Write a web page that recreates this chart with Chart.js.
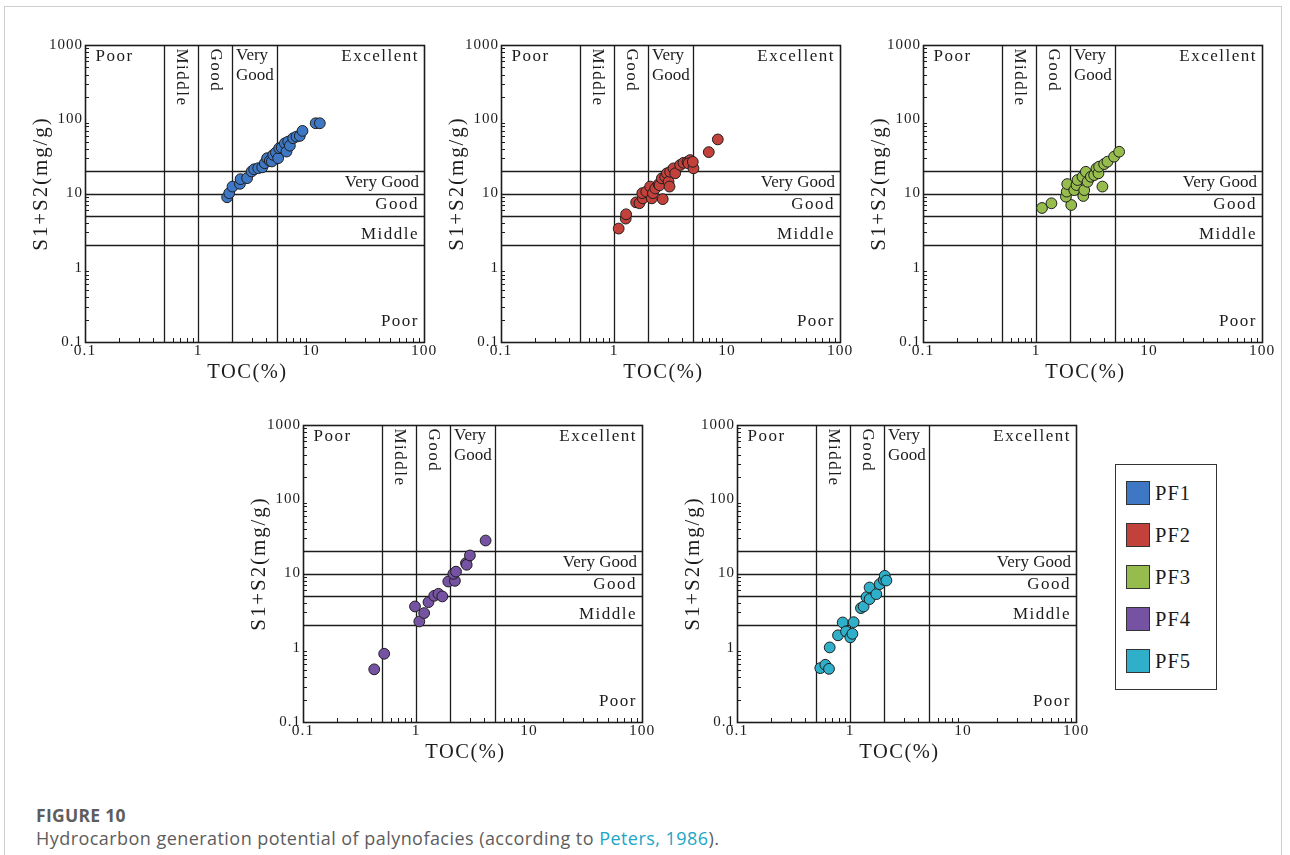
<!DOCTYPE html>
<html><head><meta charset="utf-8">
<script src="https://cdn.jsdelivr.net/npm/chart.js@4.4.1/dist/chart.umd.min.js"></script>
<style>
html,body{margin:0;padding:0;background:#fff;width:1290px;height:855px;overflow:hidden;position:relative;}
#frame{position:absolute;left:4px;top:6px;width:1276px;height:900px;border:1px solid #cfcfcf;border-bottom:none;}
canvas.cv{position:absolute;}
#legend{position:absolute;left:1115px;top:464px;width:100px;height:224px;border:1.3px solid #333;background:#fff;}
.sw{position:absolute;left:10px;width:22px;height:22px;border:1.3px solid #333;}
.lb{position:absolute;left:39px;font-family:"Liberation Serif",serif;font-size:20.5px;letter-spacing:1px;color:#1a1a1a;line-height:24px;}
#figt{position:absolute;left:36px;top:803px;font-family:"Open Sans",Lato,sans-serif;font-weight:bold;font-size:17.5px;letter-spacing:0.3px;color:#5d5d5d;}
#cap{position:absolute;left:36px;top:826px;font-family:"Open Sans",Lato,sans-serif;font-size:18px;letter-spacing:0.45px;color:#5d5d5d;white-space:nowrap;}
#cap span{color:#20a6c6;}
</style>
</head><body>
<div id="frame"></div>
<div id="legend"></div>
<div id="figt">FIGURE 10</div>
<div id="cap">Hydrocarbon generation potential of palynofacies (according to <span>Peters, 1986</span>).</div>
<script>
// ---------- data ----------
const seriesNames = ['PF1','PF2','PF3','PF4','PF5'];
const seriesColors = ['#3E78C5','#C2413B','#97BC4E','#7652A3','#2FAFCA'];

const pf1TOC   = [1.81,1.89,2.02,2.35,2.38,2.72,2.98,3.14,3.41,3.70,3.90,4.09,4.32,4.50,4.63,4.89,5.12,5.23,5.50,5.87,6.07,6.28,6.50,6.95,7.44,7.96,8.41,11.0,11.97];
const pf1S1S2  = [8.9,10.1,12.4,13.5,15.6,16.1,19.8,21.2,21.9,22.5,25.6,29.9,27.5,27.0,33.1,35.6,29.9,40.7,41.5,47.5,36.7,50.0,44.0,55.5,58.4,59.7,69.7,88.3,88.3];

const pf2TOC   = [1.10,1.27,1.28,1.57,1.68,1.80,1.78,1.93,2.09,2.16,2.21,2.32,2.48,2.53,2.65,2.70,2.84,2.94,3.04,3.10,3.14,3.36,3.48,3.85,4.12,4.47,4.72,4.56,5.05,4.98,6.90,8.29];
const pf2S1S2  = [3.37,4.59,5.25,7.6,7.4,8.6,10.1,10.6,12.4,8.6,10.1,11.7,13.3,12.9,16.0,8.4,16.8,18.7,14.4,12.4,19.6,21.8,18.7,24.2,25.9,26.7,28.2,25.4,21.8,26.7,36.1,53.5];

const pf3TOC   = [1.13,1.37,2.05,1.84,1.87,1.89,2.18,2.28,2.33,2.62,2.67,2.58,2.76,2.86,3.06,3.27,3.43,3.57,3.62,3.87,4.01,4.29,4.91,5.44];
const pf3S1S2  = [6.38,7.38,7.0,9.06,10.6,13.4,11.1,13.0,15.2,9.26,11.1,16.8,19.6,14.4,16.8,17.7,21.8,18.7,23.0,12.4,24.9,26.8,31.3,36.5];

const pf4TOC   = [0.427,0.523,0.98,1.07,1.18,1.29,1.45,1.58,1.71,1.93,2.21,2.14,2.26,2.77,2.81,3.00,4.13];
const pf4S1S2  = [0.512,0.83,3.60,2.26,2.93,4.11,5.01,5.33,4.91,7.80,7.96,9.9,10.6,13.8,13.1,17.5,27.8];

const pf5TOC   = [0.546,0.605,0.652,0.661,0.783,0.861,0.922,1.007,1.05,1.077,1.25,1.32,1.40,1.49,1.49,1.71,1.83,1.99,2.03,2.10];
const pf5S1S2  = [0.532,0.59,0.52,1.01,1.47,2.19,1.66,1.38,1.54,2.21,3.42,3.60,4.81,4.52,6.48,5.27,7.19,8.22,9.31,8.05];

const tocBounds  = [0.5, 1, 2, 5];
const s1s2Bounds = [2, 5, 10, 20];
const xTickValues = [0.1, 1, 10, 100];
const xTickLabels = ['0.1','1','10','100'];
const yTickValues = [0.1, 1, 10, 100, 1000];
const yTickLabels = ['0.1','1','10','100','1000'];
const tocClassLabels  = ['Poor','Middle','Good','Very Good','Excellent'];
const s1s2ClassLabels = ['Poor','Middle','Good','Very Good'];
const xTitle = 'TOC(%)';
const yTitle = 'S1+S2(mg/g)';

// ---------- layout ----------
const panelRects = [[85,45],[501,45],[923,45],[303,425],[737,425]];
const PW = 339, PH = 297, AXW = 65, PADT = 15, PADR = 16, AXH = 48;
const INK = '#1c1c1c';
const SERIF = '"Liberation Serif","Times New Roman",serif';

const panelData = [
  [pf1TOC,pf1S1S2],[pf2TOC,pf2S1S2],[pf3TOC,pf3S1S2],[pf4TOC,pf4S1S2],[pf5TOC,pf5S1S2]
];

function txt(ctx, s, x, y, size, align, spacing, rot){
  ctx.save();
  ctx.font = size + 'px ' + SERIF;
  ctx.fillStyle = INK;
  ctx.letterSpacing = (spacing||0) + 'px';
  ctx.textBaseline = 'middle';
  ctx.translate(x, y);
  if (rot) ctx.rotate(rot);
  let w = ctx.measureText(s).width;
  let dx = 0;
  if (align === 'center') dx = -w/2; else if (align === 'right') dx = -w;
  ctx.textAlign = 'left';
  ctx.fillText(s, dx, 0);
  ctx.restore();
}

const petersPlugin = {
  id: 'peters',
  beforeDraw(chart){ chart.ctx.letterSpacing = '1px'; },
  beforeDatasetsDraw(chart){
    const {ctx, chartArea:a, scales:{x, y}} = chart;
    ctx.save();
    ctx.strokeStyle = INK;
    ctx.lineWidth = 1.3;
    // classification lines
    tocBounds.forEach(v => {
      const px = Math.round(x.getPixelForValue(v)) + 0.5;
      ctx.beginPath(); ctx.moveTo(px, a.top); ctx.lineTo(px, a.bottom); ctx.stroke();
    });
    s1s2Bounds.forEach(v => {
      const py = Math.round(y.getPixelForValue(v)) + 0.5;
      ctx.beginPath(); ctx.moveTo(a.left, py); ctx.lineTo(a.right, py); ctx.stroke();
    });
    // minor ticks (inward)
    ctx.lineWidth = 1;
    for (let d = 0.1; d < 100; d *= 10) {
      for (let k = 2; k <= 9; k++) {
        const px = Math.round(x.getPixelForValue(k*d)) + 0.5;
        ctx.beginPath(); ctx.moveTo(px, a.bottom); ctx.lineTo(px, a.bottom - 4); ctx.stroke();
      }
    }
    for (let d = 0.1; d < 1000; d *= 10) {
      for (let k = 2; k <= 9; k++) {
        const py = Math.round(y.getPixelForValue(k*d)) + 0.5;
        ctx.beginPath(); ctx.moveTo(a.left, py); ctx.lineTo(a.left + 4, py); ctx.stroke();
      }
    }
    // frame
    ctx.lineWidth = 1.6;
    ctx.strokeRect(Math.round(a.left)+0.5, Math.round(a.top)+0.5, Math.round(a.right-a.left), Math.round(a.bottom-a.top));
    ctx.restore();

    // class labels (TOC, top)
    const xb = tocBounds.map(v => x.getPixelForValue(v));
    txt(ctx, tocClassLabels[0], a.left + 10.5, a.top + 12, 17, 'left', 1.5);
    txt(ctx, tocClassLabels[1], (xb[0]+xb[1])/2, a.top + 3.5, 17, 'left', 1.5, Math.PI/2);
    txt(ctx, tocClassLabels[2], (xb[1]+xb[2])/2, a.top + 3.5, 17, 'left', 1.5, Math.PI/2);
    const vg = tocClassLabels[3].split(' ');
    txt(ctx, vg[0], xb[2] + 4, a.top + 10.5, 17, 'left', 0);
    txt(ctx, vg[1], xb[2] + 4, a.top + 30.5, 17, 'left', 0);
    txt(ctx, tocClassLabels[4], a.right - 5, a.top + 12, 17, 'right', 1.5);
    // class labels (S1+S2, right side)
    const yb = s1s2Bounds.map(v => y.getPixelForValue(v));
    txt(ctx, s1s2ClassLabels[3], a.right - 5, (yb[2]+yb[3])/2, 17, 'right', 0);
    txt(ctx, s1s2ClassLabels[2], a.right - 5, (yb[1]+yb[2])/2, 17, 'right', 1.5);
    txt(ctx, s1s2ClassLabels[1], a.right - 5, (yb[0]+yb[1])/2 + 4, 17, 'right', 1.5);
    txt(ctx, s1s2ClassLabels[0], a.right - 5, a.bottom - 20.5, 17, 'right', 1.5);
  },
  afterDraw(chart){
    const {ctx, chartArea:a} = chart;
    txt(ctx, xTitle, (a.left+a.right)/2 - 7, a.bottom + 31, 20.5, 'center', 1.5);
    txt(ctx, yTitle, a.left - 44, (a.top+a.bottom)/2 - 10, 21, 'center', 1.9, -Math.PI/2);
  }
};

panelRects.forEach((r, i) => {
  const cv = document.createElement('canvas');
  cv.className = 'cv';
  const W = AXW + PW + PADR, H = PADT + PH + AXH;
  cv.width = W; cv.height = H;
  cv.style.left = (r[0] - AXW) + 'px';
  cv.style.top = (r[1] - PADT) + 'px';
  cv.style.width = W + 'px'; cv.style.height = H + 'px';
  document.body.appendChild(cv);
  const [tx, ty] = panelData[i];
  new Chart(cv, {
    type: 'scatter',
    data: { datasets: [{
      label: seriesNames[i],
      data: tx.map((v, k) => ({x: v, y: ty[k]})),
      backgroundColor: seriesColors[i],
      borderColor: '#1e1e1e',
      borderWidth: 1,
      pointRadius: 5.4,
      pointHoverRadius: 5.4
    }]},
    options: {
      responsive: false, animation: false, devicePixelRatio: 1,
      layout: { padding: { top: PADT, right: PADR, left: 0, bottom: 0 } },
      plugins: { legend: { display: false }, tooltip: { enabled: false } },
      scales: {
        x: {
          type: 'logarithmic', min: 0.1, max: 100, position: 'bottom',
          afterBuildTicks: s => { s.ticks = xTickValues.map(v => ({value: v, major: true})); },
          afterFit: s => { s.height = AXH; },
          ticks: { callback: (v, idx) => xTickLabels[idx], font: {family: SERIF, size: 15.5}, color: INK,
                   padding: 0, maxRotation: 0, minRotation: 0, autoSkip: false },
          grid: { display: false, drawTicks: false },
          border: { display: false }
        },
        y: {
          type: 'logarithmic', min: 0.1, max: 1000, position: 'left',
          afterBuildTicks: s => { s.ticks = yTickValues.map(v => ({value: v, major: true})); },
          afterFit: s => { s.width = AXW; },
          ticks: { callback: (v, idx) => yTickLabels[idx], font: {family: SERIF, size: 15}, color: INK,
                   padding: 2, autoSkip: false },
          grid: { display: false, drawTicks: false },
          border: { display: false }
        }
      }
    },
    plugins: [petersPlugin]
  });
});

// legend
const lg = document.getElementById('legend');
const rowTops = [16, 58, 100, 142, 184];
seriesNames.forEach((n, i) => {
  const sw = document.createElement('div');
  sw.className = 'sw'; sw.style.top = rowTops[i] + 'px'; sw.style.background = seriesColors[i];
  lg.appendChild(sw);
  const lb = document.createElement('div');
  lb.className = 'lb'; lb.style.top = (rowTops[i] - 0.5) + 'px'; lb.textContent = n;
  lg.appendChild(lb);
});
</script>
</body></html>
